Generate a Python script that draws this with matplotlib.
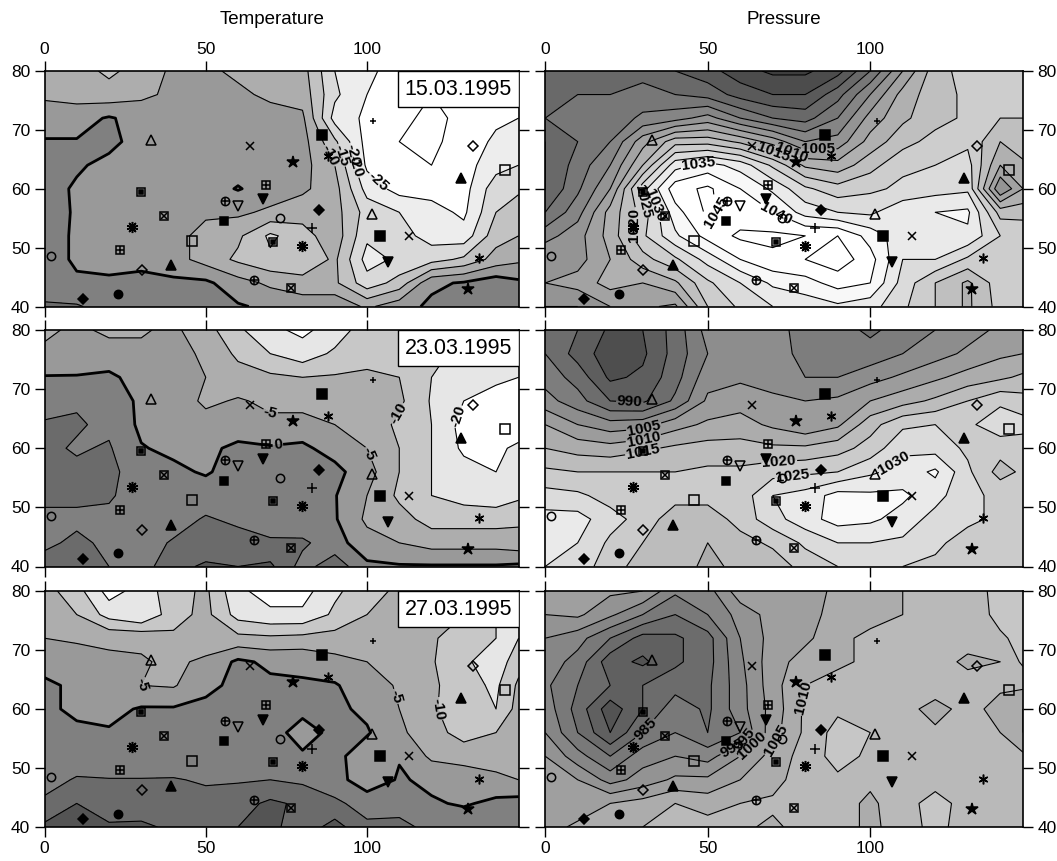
import numpy as np
from matplotlib import pyplot as plt
from matplotlib.patches import Rectangle

plt.rcParams['font.family'] = ['Liberation Sans', 'DejaVu Sans']

grid_x = [0, 10, 20, 30, 40, 50, 60, 70, 80, 90, 100, 110, 120, 130, 140, 147]
grid_y = [80, 76, 72, 68, 64, 60, 56, 52, 48, 44, 40]

temp_15 = [
    [-7, -8, -11, -8, -4, -4, -6, -7, -8, -20, -24, -27, -27, -27, -25, -25],
    [-6, -7, -8, -6, -4, -3, -4, -6, -7, -19, -25, -28, -30, -29, -26, -26],
    [-2, -2, 0.5, -2, -3, -3, -3, -3, -4, -22, -26, -29, -31, -29, -26, -25],
    [0.3, 0.3, 1, -1.5, -2, -2, -2, -2, -3, -14, -27, -30, -31, -28, -24, -22],
    [1.5, 0.5, -1, -1.5, -2, -2, -2, -2, -3, -10, -26, -29, -30, -27, -22, -20],
    [1.5, -0.5, -1, -1, -2, -2, 0.3, -2, -4, -8, -22, -27, -27, -27, -17, -16],
    [2, -0.5, -1, -1, -1, -4, -4, -6, -8, -8, -17, -20, -23, -26, -15, -12],
    [1.5, -0.5, -1, -1, -3, -7, -9, -16, -12, -7, -19, -18, -22, -23, -12, -10],
    [1.5, -0.5, -1, -1, -3, -7, -11, -14, -14, -9, -22, -19, -17, -14, -8, -6],
    [1, 0.5, 0.5, 1, 1, 1, -3, -6, -8, -9, -18, -13, -1, 0.5, 3, 1],
    [6, 5.5, 3, 3, 4, 2, 0.5, -1, -2, -1, -6, -2, 1, 2, 3, 3],
]
pres_15 = [
    [985, 988, 990, 988, 985, 982, 977, 974, 974, 978, 990, 1005, 1018, 1022, 1022, 1022],
    [990, 990, 990, 992, 990, 988, 983, 980, 980, 988, 1000, 1012, 1018, 1021, 1022, 1022],
    [990, 995, 992, 996, 998, 1002, 995, 990, 988, 995, 1007, 1014, 1018, 1021, 1020, 1020],
    [985, 990, 995, 1008, 1018, 1018, 1014, 1008, 1000, 1002, 1012, 1018, 1022, 1024, 1015, 1018],
    [985, 992, 1000, 1015, 1033, 1037, 1033, 1024, 1014, 1012, 1018, 1024, 1025, 1027, 1010, 1014],
    [985, 994, 1005, 1028, 1043, 1046, 1040, 1034, 1026, 1022, 1024, 1026, 1028, 1029, 1000, 1010],
    [990, 998, 1012, 1022, 1038, 1046, 1042, 1040, 1033, 1030, 1029, 1034, 1035, 1036, 1018, 1018],
    [998, 1003, 1012, 1024, 1034, 1042, 1046, 1046, 1045, 1045, 1038, 1032, 1034, 1034, 1025, 1024],
    [1005, 1003, 1010, 1018, 1024, 1032, 1040, 1044, 1045, 1048, 1042, 1030, 1030, 1024, 1022, 1022],
    [1005, 1007, 1012, 1010, 1014, 1024, 1030, 1036, 1038, 1042, 1040, 1028, 1020, 1014, 1023, 1022],
    [1000, 1000, 1005, 1006, 1004, 1020, 1026, 1030, 1032, 1034, 1032, 1026, 1020, 1014, 1022, 1022],
]
temp_23 = [
    [-6, -4, -6, -5.5, -4, -8, -14, -19, -21, -18, -12, -11, -13, -16, -17, -17],
    [-4, -3, -3, -4, -3, -6, -11, -15, -18, -14, -11, -11, -14, -16, -17, -18],
    [0.3, 0.3, 1, -2, -3, -5, -8, -9, -10, -9.5, -9.5, -10, -15, -17, -19, -20],
    [1, 4.5, 3, -1, -2, -6, -4.5, -6, -7, -7, -7, -9, -15.5, -20, -22, -22],
    [6, 5.5, 4, -1, -3, -3, -2.5, -4, -3, -5, -7, -11, -15, -22, -24, -23],
    [6, 4.5, 5.5, 0.3, -1, -1, 1, 0.5, 1, -2, -5, -10, -15, -21, -21, -19],
    [6, 6, 5.5, 4, 1, -0.5, 2, 2.5, 2, 1.5, -3, -10, -15, -18, -20, -18],
    [6, 6, 5.5, 3, 2, 2.5, 3, 0.5, 1, 0.3, -5, -11, -15, -17, -18, -16],
    [4, 4, 4, 3, 3, 5.5, 4, 1.5, 1, 0.5, -6, -8, -12, -12, -12, -11],
    [4, 6, 4, 3, 5.5, 6, 7, 6, 6, 2, -3, -5, -7, -7, -7, -8],
    [7, 7, 5, 3, 8, 11, 10, 11, 3, 8, 1, 0.5, 0.5, 0.5, 0.5, 1],
]
pres_23 = [
    [995, 990, 984, 985, 992, 1002, 1003, 1002, 998, 997, 994, 997, 1000, 1003, 1006, 1008],
    [995, 988, 982, 984, 992, 1000, 1003, 1003, 998, 998, 997, 1000, 1003, 1006, 1009, 1010],
    [998, 993, 984, 986, 993, 1003, 1004, 1003, 1000, 1000, 1003, 1006, 1009, 1012, 1014, 1016],
    [1002, 997, 990, 989, 996, 1006, 1008, 1006, 1005, 1006, 1010, 1013, 1016, 1020, 1024, 1022],
    [1010, 1005, 1002, 1003, 1008, 1011, 1012, 1009, 1006, 1009, 1018, 1024, 1025, 1024, 1028, 1027],
    [1015, 1013, 1012, 1014, 1016, 1017, 1017, 1016, 1016, 1018, 1022, 1029, 1028, 1024, 1022, 1022],
    [1021, 1020, 1020, 1020, 1020, 1021, 1021, 1023, 1024, 1025, 1029, 1032, 1036, 1026, 1018, 1021],
    [1027, 1026, 1023, 1023, 1022, 1022, 1022, 1030, 1032, 1037, 1036, 1036, 1032, 1026, 1024, 1024],
    [1032, 1032, 1027, 1023, 1017, 1017, 1022, 1028, 1033, 1037, 1036, 1033, 1028, 1026, 1024, 1024],
    [1031, 1030, 1024, 1020, 1016, 1015, 1018, 1021, 1026, 1030, 1030, 1029, 1026, 1023, 1024, 1024],
    [1030, 1028, 1022, 1018, 1017, 1014, 1016, 1017, 1022, 1025, 1027, 1025, 1024, 1023, 1023, 1023],
]
temp_27 = [
    [-8, -13, -22, -18, -12, -9, -19, -22, -22, -16, -12, -9, -9.5, -11, -16, -17],
    [-6, -10, -17, -20, -12, -8.5, -17, -19, -19, -14, -10, -9, -9, -10, -15, -17],
    [-5, -6, -6, -6, -9, -8, -8.5, -9, -8.5, -8, -8, -8, -9.5, -12, -15, -15],
    [-2, -1.5, -4, -4.5, -6, -4, 1, -1, -1, -3.5, -5, -7, -9.5, -14, -18, -12],
    [1, -1, -2, -5, -5.5, -1, 1, 1, 0.5, 0.5, -3, -5.5, -9, -13, -16, -9],
    [1, -1, -1.5, 0.5, 0.5, 1, 1, 1.5, 1, 1, -1, -5, -9, -14, -15, -8],
    [1.5, 1, 0.5, 1, 1.5, 2, 1.5, 1.5, -1.5, 1, 0.5, -4, -8, -12, -10, -8],
    [1.5, 2, 2, 2, 2, 2, 2, 2, 0.5, 1.5, -3, -0.3, -6, -7, -9, -7],
    [3, 5.5, 5.2, 5.2, 5.3, 4.5, 4.5, 5, 4, 2, -3, 0.5, -1, -2, -3, -5],
    [6, 10, 6, 7, 8, 6.5, 8, 11, 9, 6, 3, 3.5, 0.5, -0.5, 1, 2],
    [11, 11.5, 11, 11, 9, 8, 10, 11.5, 7, 12, 6, 6, 4, 3, 3, 2],
]
pres_27 = [
    [1003, 1003, 1001, 1000, 991, 993, 1003, 1002, 1003, 1006, 1005, 1010, 1011, 1012, 1017, 1017],
    [1000, 1001, 996, 990, 985, 990, 997, 1002, 1004, 1006, 1007, 1010, 1011, 1011, 1017, 1016],
    [995, 992, 985, 978, 979, 983, 995, 1002, 1004, 1008, 1012, 1012, 1010, 1012, 1014, 1017],
    [993, 988, 977, 974, 979, 983, 994, 1003, 1007, 1009, 1011, 1012, 1012, 1009, 1010, 1016],
    [991, 985, 980, 980, 983, 984, 993, 1003, 1010, 1012, 1013, 1014, 1013, 1012, 1011, 1011],
    [993, 983, 972, 980, 988, 984, 993, 1002, 1011, 1014, 1014, 1012, 1008, 1012, 1008, 1005],
    [995, 985, 975, 985, 990, 985, 990, 1003, 1011, 1017, 1015, 1013, 1011, 1012, 1010, 1005],
    [1000, 992, 985, 993, 995, 993, 1000, 1007, 1012, 1017, 1014, 1012, 1011, 1012, 1011, 1011],
    [1005, 1000, 993, 997, 1001, 1001, 1005, 1008, 1013, 1014, 1011, 1012, 1013, 1012, 1012, 1012],
    [1003, 1002, 1005, 1007, 1010, 1008, 1010, 1011, 1012, 1012, 1009, 1013, 1017, 1013, 1012, 1012],
    [1003, 1006, 1008, 1010, 1013, 1012, 1011, 1009, 1012, 1012, 1009, 1012, 1017, 1012, 1012, 1012],
]

dates = ['15.03.1995', '23.03.1995', '27.03.1995']
x_ticks = [0, 50, 100]
y_ticks = [40, 50, 60, 70, 80]

station_lon = [33, 63.6, 77.2, 86, 102, 133, 129, 142.8, 30, 68.7, 67.9, 60, 56, 85, 55.7, 73, 83,
               101.4, 113, 103.9, 106.6, 134.7, 131.4, 37, 27, 45.7, 71, 79.8, 23.4, 1.9, 30.2, 39.2,
               12, 22.8, 65, 76.4, 88]
station_lat = [68.3, 67.3, 64.6, 69.2, 71.5, 67.3, 61.8, 63.2, 59.5, 60.7, 58.2, 57, 58, 56.4, 54.5, 55, 53.3,
               55.7, 52, 52, 47.6, 48.2, 43, 55.4, 53.5, 51.2, 51, 50.3, 49.6, 48.5, 46.2, 47,
               41.3, 42.2, 44.5, 43.2, 65.5]
station_kind = ['tri_o', 'x', 'star', 'sq_f', 'plus_s', 'dia_o', 'tri_f', 'sq_o', 'sq_dot', 'sq_grid', 'tri_d', 'tri_do',
                'circ_p', 'dia_f', 'sq_f_s', 'circ_o', 'plus', 'tri_o', 'x', 'sq_f', 'tri_d', 'aster', 'star', 'sq_x',
                'burst', 'sq_o', 'sq_dot', 'burst', 'sq_grid', 'circ_o', 'dia_o', 'tri_f', 'dia_f', 'circ_f', 'circ_p',
                'sq_x', 'aster']

# (marker, size, filled) layers for every station symbol
symbols = {
    'tri_o': [('^', 7, False)], 'tri_f': [('^', 7, True)], 'tri_d': [('v', 7, True)], 'tri_do': [('v', 7, False)],
    'sq_f': [('s', 7, True)], 'sq_f_s': [('s', 5.5, True)], 'sq_o': [('s', 6.5, False)],
    'sq_dot': [('s', 6, False), ('s', 2.5, True)], 'sq_grid': [('s', 6, False), ('+', 6, False)],
    'sq_x': [('s', 6, False), ('x', 4, False)],
    'dia_o': [('D', 5.5, False)], 'dia_f': [('D', 5.5, True)],
    'circ_o': [('o', 6, False)], 'circ_f': [('o', 6, True)], 'circ_p': [('o', 6, False), ('+', 6, False)],
    'x': [('x', 6, False)], 'plus': [('+', 7, False)], 'plus_s': [('+', 4.5, False)],
    'star': [('*', 9, True)], 'aster': [((6, 2, 0), 7, False)], 'burst': [((10, 2, 0), 8, False), ('o', 2.5, True)],
}

temp_levels = list(range(-40, 20, 5))
pres_levels = list(range(965, 1060, 5))
temp_grey_a = [1, 1, 1, .93, .85, .76, .68, .6, .5, .42, .33]
temp_grey_b = [1, 1, 1, 1, .9, .78, .68, .6, .5, .42, .33]


def pres_greys(low, high, g_low, g_high):
    out = []
    for a in pres_levels[:-1]:
        g = g_low + (a + 2.5 - low)/(high - low)*(g_high - g_low)
        out.append(str(min(max(g, 0), 1)))
    return out


panels = [
    (temp_15, temp_levels, [str(g) for g in temp_grey_a], [(88, 65.5), (91, 65.5), (93, 65.5), (95, 65.5), (108, 64)]),
    (pres_15, pres_levels, pres_greys(975, 1040, .27, 1), [(84, 67.5), (76, 66.5), (70, 66), (47, 64.5), (71, 56),
                                                          (33, 57), (29, 57.5), (26, 54), (58, 56)]),
    (temp_23, temp_levels, [str(g) for g in temp_grey_b], [(70, 65.5), (72, 62.5), (105, 60), (112, 65), (125, 66)]),
    (pres_23, pres_levels, pres_greys(982, 1035, .3, .95), [(26, 67.5), (30, 64), (30, 62), (30, 59.5), (72, 57.5),
                                                           (76, 55.5), (108, 57)]),
    (temp_27, temp_levels, [str(g) for g in temp_grey_b], [(29, 64.5), (108, 62), (120, 60)]),
    (pres_27, pres_levels, pres_greys(965, 1020, .25, .8), [(32, 56), (58, 53), (61, 55), (65, 53), (70, 55), (78, 62)]),
]
W, H = 1057, 861
cols = [(44.5, 518.6), (545.2, 1023)]
rows = [(71, 306.5), (330, 566.5), (591, 827)]

fig = plt.figure(figsize=(W/100, H/100), dpi=100, facecolor='white')

for n, (values, levels, greys, label_pos) in enumerate(panels):
    r, c = n//2, n % 2
    l, rr = cols[c]
    t, b = rows[r]
    ax = fig.add_axes([l/W, 1 - b/H, (rr - l)/W, (b - t)/H])
    z = np.array(values, dtype=float)
    ax.contourf(grid_x, grid_y, z, levels=levels, colors=greys)
    widths = [2.0 if (lv == 0 and c == 0) else 0.8 for lv in levels]
    cs = ax.contour(grid_x, grid_y, z, levels=levels, colors='black', linewidths=widths,
                    negative_linestyles='solid')
    for txt in ax.clabel(cs, manual=label_pos, fmt='%d', fontsize=11, inline=True, inline_spacing=1):
        txt.set_fontweight('bold')

    for lon, lat, kind in zip(station_lon, station_lat, station_kind):
        for marker, size, filled in symbols[kind]:
            ax.plot([lon], [lat], marker=marker, ms=size, mew=1.1, ls='none', zorder=5,
                    mfc='black' if filled else 'none', mec='black')

    ax.set_xlim(0, 147)
    ax.set_ylim(40, 80)
    ax.set_xticks(x_ticks)
    ax.set_yticks(y_ticks)
    ax.tick_params(length=7.2, width=1, labelsize=12.5, top=True, bottom=True, left=True, right=True,
                   labeltop=(r == 0), labelbottom=(r == 2), labelleft=(c == 0), labelright=(c == 1), pad=3)
    for spine in ax.spines.values():
        spine.set_linewidth(1.2)

    if c == 0:
        ax.add_patch(Rectangle((0.745, 0.847), 0.255, 0.153, transform=ax.transAxes, fc='white', ec='black',
                               lw=1, zorder=8))
        ax.text(0.8725, 0.922, dates[r], transform=ax.transAxes, ha='center', va='center', fontsize=15.5, zorder=9)

fig.text(272/W, 1 - 19/H, 'Temperature', ha='center', va='center', fontsize=13.5)
fig.text(784/W, 1 - 19/H, 'Pressure', ha='center', va='center', fontsize=13.5)

fig.savefig('out.png', dpi=100)
